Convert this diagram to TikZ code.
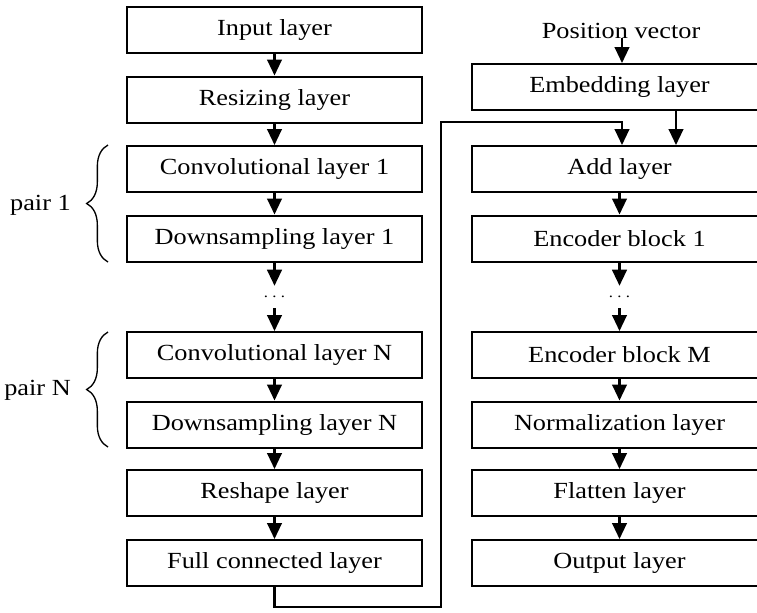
\documentclass[tikz,border=0pt]{standalone}
\usepackage{fontspec}
\setmainfont[FakeStretch=1.14]{Liberation Serif}
\usetikzlibrary{arrows.meta,calc,decorations.pathreplacing}
\begin{document}
\begin{tikzpicture}[x=0.75pt,y=-0.75pt,
  layer/.style={draw, line width=1.5pt, rectangle, minimum width=221.25pt,
    minimum height=34.5pt, inner sep=0pt, font=\fontsize{17.3}{20}\selectfont},
  lbl/.style={inner sep=0pt, font=\fontsize{17.3}{20}\selectfont},
  arr/.style={line width=1.6pt, -{Triangle[width=11pt,length=12pt]}},
  dotsnode/.style={minimum height=16.5pt, minimum width=10pt, inner sep=0pt,
    font=\fontsize{11}{12}\selectfont},
  pairbrace/.style={decorate, decoration={brace, amplitude=16pt}, line width=1pt}]
\clip (0,0) rectangle (757,612);

% CNN branch
\node[layer] (inp)   at (274.5,30)    {Input layer};
\node[layer] (res)   at (274.5,99.5)  {Resizing layer};
\node[layer] (conv1) at (274.5,169)   {Convolutional layer 1};
\node[layer] (down1) at (274.5,238.5) {Downsampling layer 1};
\node[dotsnode] (ldots) at (274.5,297) {.\kern3.2pt.\kern3.2pt.};
\node[layer] (convN) at (274.5,355)   {Convolutional layer N};
\node[layer] (downN) at (274.5,424.5) {Downsampling layer N};
\node[layer] (resh)  at (274.5,493)   {Reshape layer};
\node[layer] (full)  at (274.5,563)   {Full connected layer};

% Transformer branch
\node[lbl] (pos)   at (621,31)      {Position vector};
\node[layer] (emb)   at (619.5,87)    {Embedding layer};
\node[layer] (add)   at (619.5,169)   {Add layer};
\node[layer] (enc1)  at (619.5,238.5) {Encoder block 1};
\node[dotsnode] (rdots) at (619.5,297) {.\kern3.2pt.\kern3.2pt.};
\node[layer] (encM)  at (619.5,355)   {Encoder block M};
\node[layer] (norm)  at (619.5,424.5) {Normalization layer};
\node[layer] (flat)  at (619.5,493)   {Flatten layer};
\node[layer] (out)   at (619.5,563)   {Output layer};

% pair braces
\node[lbl, anchor=east] (p1) at (71,205) {pair 1};
\node[lbl, anchor=east] (pN) at (71,390) {pair N};
\coordinate (b1a) at (108,262);
\coordinate (b1b) at (108,145);
\coordinate (bNa) at (108,447);
\coordinate (bNb) at (108,332);
\draw[pairbrace] (b1a) -- (b1b);
\draw[pairbrace] (bNa) -- (bNb);

% CNN flow
\draw[arr] (inp) -- (res);
\draw[arr] (res) -- (conv1);
\draw[arr] (conv1) -- (down1);
\draw[arr] (down1) -- (ldots);
\draw[arr] (ldots) -- (convN);
\draw[arr] (convN) -- (downN);
\draw[arr] (downN) -- (resh);
\draw[arr] (resh) -- (full);

% Transformer flow
\coordinate (posx) at (622,0);
\coordinate (embx) at (676,0);
\draw[arr] (pos.south -| posx) ++(0,-1) -- (emb.north -| posx);
\draw[arr] (emb.south -| embx) -- (add.north -| embx);
\draw[arr] (add) -- (enc1);
\draw[arr] (enc1) -- (rdots);
\draw[arr] (rdots) -- (encM);
\draw[arr] (encM) -- (norm);
\draw[arr] (norm) -- (flat);
\draw[arr] (flat) -- (out);

% feature hand-over from the CNN branch to the add layer
\coordinate (lo) at (441,607);
\coordinate (hi) at (441,122);
\draw[arr] (full.south) |- (lo) -- (hi) -| (add.north -| posx);
\end{tikzpicture}
\end{document}
